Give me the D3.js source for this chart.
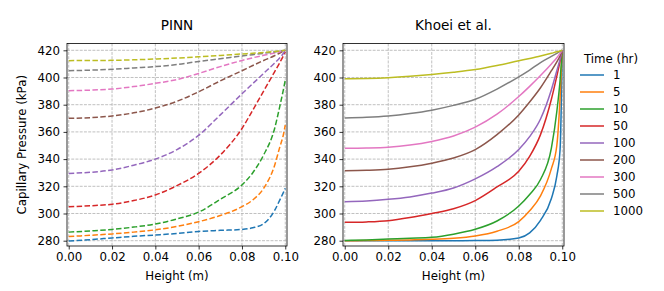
<!DOCTYPE html>
<html><head><meta charset="utf-8">
<script src="https://cdn.jsdelivr.net/npm/d3@7"></script>
<style>
html,body{margin:0;padding:0;background:#fff;}
text{font-family:"DejaVu Sans",sans-serif;fill:#000;}
</style></head>
<body>
<svg id="chart" width="664" height="291"></svg>
<script>
const heights = [0, 0.01, 0.02, 0.03, 0.04, 0.05, 0.06, 0.07, 0.08, 0.085, 0.09, 0.095, 0.0975, 0.099, 0.1];
const times = ["1", "5", "10", "50", "100", "200", "300", "500", "1000"];
const colors = ["#1f77b4","#ff7f0e","#2ca02c","#d62728","#9467bd","#8c564b","#e377c2","#7f7f7f","#bcbd22"];
const xTicks = [0, 0.02, 0.04, 0.06, 0.08, 0.10];
const yTicks = [280, 300, 320, 340, 360, 380, 400, 420];
const panelTitles = ["PINN", "Khoei et al."];

// PINN predictions (dashed)
const pinn1    = [279.8,280.8,282.0,283.2,284.2,285.3,286.8,287.6,288.3,289.5,292.5,302.0,310.0,315.0,318.5];
const pinn5    = [283.0,284.0,285.0,286.3,288.0,290.5,294.0,298.5,305.0,310.0,318.5,335.0,349.0,357.0,365.0];
const pinn10   = [286.3,287.2,288.3,290.0,292.3,296.0,301.0,310.5,321.0,330.0,343.0,362.0,379.0,390.0,398.0];
const pinn50   = [305.0,305.7,306.8,309.5,313.6,320.5,329.5,343.0,362.5,376.0,390.0,404.0,411.0,415.5,419.0];
const pinn100  = [329.5,330.3,332.0,335.5,340.0,347.0,357.5,372.5,388.0,395.5,403.0,410.5,414.5,417.5,420.0];
const pinn200  = [370.0,370.5,371.7,374.0,377.5,382.5,389.5,397.5,405.0,408.8,412.5,416.0,418.0,419.2,420.0];
const pinn300  = [390.3,390.7,391.5,393.3,395.7,398.5,403.0,408.0,412.5,414.5,416.3,418.0,419.0,419.6,420.0];
const pinn500  = [405.0,405.4,406.0,407.0,408.0,409.5,411.8,413.8,415.8,416.8,417.8,418.8,419.4,419.8,420.0];
const pinn1000 = [412.4,412.5,412.6,413.0,413.6,414.3,415.2,416.2,417.3,417.8,418.4,419.1,419.5,419.8,420.0];

// Khoei et al. reference (solid)
const khoei1    = [280.0,280.0,280.0,280.0,280.0,280.0,280.1,280.4,282.0,285.8,295.0,311.0,327.5,347.0,420.0];
const khoei5    = [280.0,280.1,280.3,280.6,281.0,281.8,283.5,287.0,294.0,302.0,313.0,333.0,350.0,385.0,420.0];
const khoei10   = [280.2,280.6,281.2,281.8,282.5,284.8,288.4,294.5,305.5,314.0,325.0,348.0,375.0,398.0,420.0];
const khoei50   = [293.5,293.8,294.7,297.0,300.0,303.5,309.5,319.5,331.0,342.0,358.0,384.0,401.0,412.0,420.0];
const khoei100  = [308.7,309.2,310.4,312.2,315.0,318.8,325.5,334.5,347.0,356.5,369.5,391.0,405.0,413.5,420.0];
const khoei200  = [331.5,331.8,332.5,334.3,337.0,340.8,347.0,358.0,372.5,382.0,392.5,405.0,411.5,416.0,420.0];
const khoei300  = [347.9,348.1,348.7,350.3,353.0,357.0,363.5,373.0,386.0,393.5,401.5,410.0,414.5,417.7,420.0];
const khoei500  = [370.2,370.7,371.7,373.5,376.0,379.5,384.0,391.5,400.5,405.5,411.0,415.5,417.8,419.2,420.0];
const khoei1000 = [399.0,399.3,399.9,400.9,402.2,403.8,405.8,408.8,412.3,414.0,415.8,417.8,418.9,419.5,420.0];

const pinnSeries = [pinn1,pinn5,pinn10,pinn50,pinn100,pinn200,pinn300,pinn500,pinn1000];
const khoeiSeries = [khoei1,khoei5,khoei10,khoei50,khoei100,khoei200,khoei300,khoei500,khoei1000];

const svg = d3.select("#chart");
const yTop = 43.5, yBottom = 246;
const panels = [
  {x0: 67, x1: 287, series: pinnSeries, dash: "5.5,2.4", title: panelTitles[0]},
  {x0: 343, x1: 564, series: khoeiSeries, dash: null, title: panelTitles[1]}
];
const y = d3.scaleLinear().domain([276.1, 425]).range([yBottom, yTop]);
const tickFont = 11.8;

panels.forEach((p, pi) => {
  const x = d3.scaleLinear().domain([-0.0008, 0.1008]).range([p.x0, p.x1]);
  const g = svg.append("g");
  g.append("g").selectAll("line").data(xTicks).join("line")
    .attr("x1", d => x(d)).attr("x2", d => x(d)).attr("y1", yTop).attr("y2", yBottom)
    .attr("stroke", "#b0b0b0").attr("stroke-width", 0.8).attr("stroke-dasharray", "2.96,1.28");
  g.append("g").selectAll("line").data(yTicks).join("line")
    .attr("y1", d => y(d)).attr("y2", d => y(d)).attr("x1", p.x0).attr("x2", p.x1)
    .attr("stroke", "#b0b0b0").attr("stroke-width", 0.8).attr("stroke-dasharray", "2.96,1.28");
  const line = d3.line().x((d, i) => x(heights[i])).y(d => y(d)).curve(d3.curveMonotoneX);
  g.append("g").selectAll("path").data(p.series).join("path")
    .attr("d", d => line(d)).attr("fill", "none")
    .attr("stroke", (d, i) => colors[i]).attr("stroke-width", 1.5)
    .attr("stroke-dasharray", p.dash);
  const xAxis = d3.axisBottom(x).tickValues(xTicks).tickFormat(d3.format(".2f")).tickSize(3.5).tickPadding(3.5);
  const ga = g.append("g").attr("transform", `translate(0,${yBottom})`).call(xAxis);
  const yAxis = d3.axisLeft(y).tickValues(yTicks).tickSize(3.5).tickPadding(3.5);
  const gy = g.append("g").attr("transform", `translate(${p.x0},0)`).call(yAxis);
  [ga, gy].forEach(a => {
    a.select(".domain").remove();
    a.selectAll("line").attr("stroke", "#000").attr("stroke-width", 0.8);
    a.selectAll("text").attr("font-size", tickFont).attr("font-family", "DejaVu Sans");
  });
  g.append("rect").attr("x", p.x0).attr("y", yTop).attr("width", p.x1 - p.x0).attr("height", yBottom - yTop)
    .attr("fill", "none").attr("stroke", "#000").attr("stroke-width", 0.8);
  g.append("text").attr("x", (p.x0 + p.x1) / 2).attr("y", 30).attr("text-anchor", "middle")
    .attr("font-size", 13.6).text(p.title);
  g.append("text").attr("x", (p.x0 + p.x1) / 2).attr("y", 280).attr("text-anchor", "middle")
    .attr("font-size", tickFont).text("Height (m)");
});

svg.append("text").attr("transform", `translate(26,${(yTop + yBottom) / 2}) rotate(-90)`)
  .attr("text-anchor", "middle").attr("font-size", tickFont).text("Capillary Pressure (kPa)");

const lg = svg.append("g");
lg.append("text").attr("x", 611).attr("y", 63).attr("text-anchor", "middle").attr("font-size", tickFont).text("Time (hr)");
times.forEach((t, i) => {
  const cy = 75 + i * 17;
  lg.append("line").attr("x1", 580).attr("x2", 604).attr("y1", cy).attr("y2", cy)
    .attr("stroke", colors[i]).attr("stroke-width", 1.5);
  lg.append("text").attr("x", 613).attr("y", cy + 4).attr("font-size", tickFont).text(t);
});
</script>
</body></html>
